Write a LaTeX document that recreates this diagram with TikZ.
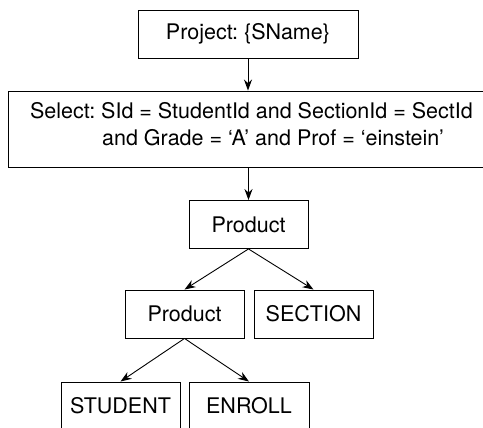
\documentclass[tikz,border=0pt]{standalone}
\usepackage{fontspec}
\setmainfont{TeX Gyre Heros}
\frenchspacing
\usetikzlibrary{arrows.meta, calc}

\begin{document}
\begin{tikzpicture}[x=1pt,y=-1pt,
    box/.style={draw,line width=0.9pt,inner sep=0pt,minimum height=48pt,
      font=\fontsize{21.5}{27}\selectfont},
    flow/.style={-{Stealth[length=11pt,width=8pt]},line width=0.9pt}]
  % \draw (0, 0) grid (483, 428);
  \useasboundingbox (0,0) rectangle (483,428);

  \node[box,minimum width=220pt] (proj) at (248,34) {Project: \{SName\}};
  \node[box,minimum width=487pt,minimum height=76pt,text depth=10pt,align=left] (sel) at (251.5,129)
    {Select: SId = StudentId and SectionId = SectId\\\hspace*{72pt}and Grade = ‘A’ and Prof = ‘einstein’};
  \node[box,minimum width=119pt] (prod1) at (248.5,224.5) {Product};
  \node[box,minimum width=119pt] (prod2) at (184.5,314) {Product};
  \node[box,minimum width=119pt] (sect) at (313.5,314) {SECTION};
  \node[box,minimum width=119pt] (stud) at (120.5,406) {STUDENT};
  \node[box,minimum width=120pt] (enr) at (249,406) {ENROLL};

  \draw[flow] (proj.south) -- (proj.south |- sel.north);
  \draw[flow] (sel.south -| prod1.north) -- (prod1.north);
  \draw[flow] (prod1.south) -- (prod2.north);
  \draw[flow] (prod1.south) -- (sect.north);
  \draw[flow] (prod2.south) -- (stud.north);
  \draw[flow] (prod2.south) -- (enr.north);
\end{tikzpicture}
\end{document}
